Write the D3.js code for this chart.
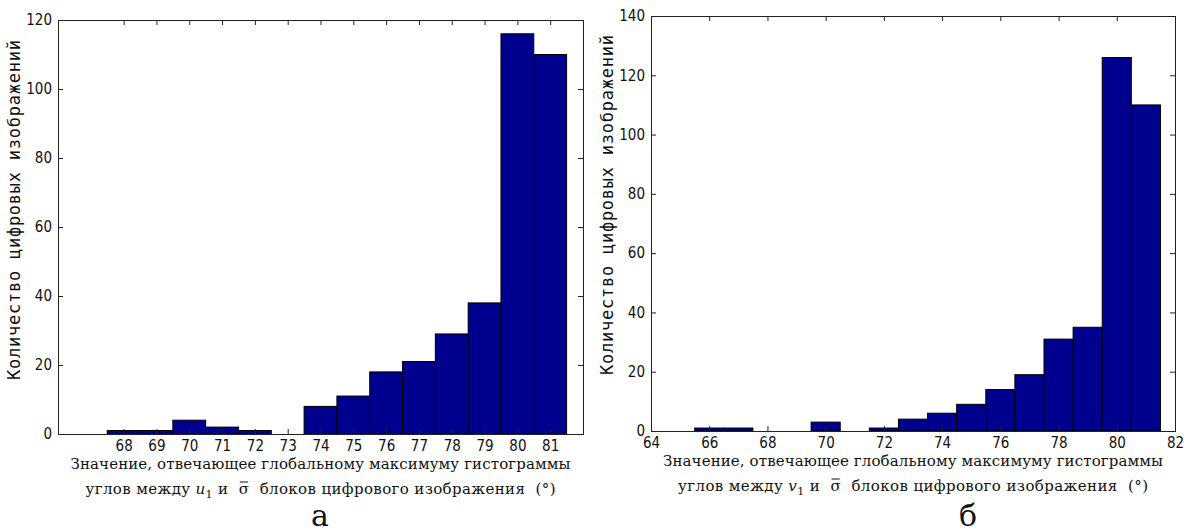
<!DOCTYPE html>
<html>
<head>
<meta charset="utf-8">
<script src="https://cdn.jsdelivr.net/npm/d3@7/dist/d3.min.js"></script>
<style>
  html, body { margin: 0; padding: 0; background: #fff; }
  svg { display: block; }
</style>
</head>
<body>
<svg id="chart" width="1190" height="532"></svg>
<script>
// Histogram (а): bin centres and counts
const binsA = [68, 69, 70, 71, 72, 73, 74, 75, 76, 77, 78, 79, 80, 81];
const countsA = [1, 1, 4, 2, 1, 0, 8, 11, 18, 21, 29, 38, 116, 110];
const xTicksA = [68, 69, 70, 71, 72, 73, 74, 75, 76, 77, 78, 79, 80, 81];
const yTicksA = [0, 20, 40, 60, 80, 100, 120];

// Histogram (б): bin centres and counts
const binsB = [66, 67, 68, 69, 70, 71, 72, 73, 74, 75, 76, 77, 78, 79, 80, 81];
const countsB = [1, 1, 0, 0, 3, 0, 1, 4, 6, 9, 14, 19, 31, 35, 126, 110];
const xTicksB = [64, 66, 68, 70, 72, 74, 76, 78, 80, 82];
const yTicksB = [0, 20, 40, 60, 80, 100, 120, 140];

const yTitle = "Количество цифровых изображений";
const xTitleLine1 = "Значение, отвечающее глобальному максимуму гистограммы";

const SERIF = "DejaVu Serif";
const MONO = "DejaVu Sans Mono";
const TICKFONT = "DejaVu Sans Condensed";

const svg = d3.select("#chart");
const TICK = 5;
const BAR_FILL = "#00008f";

function styleTicks(axisG) {
  axisG.attr("font-family", null).attr("font-size", null);
  axisG.selectAll(".tick text")
    .style("font-family", TICKFONT)
    .style("font-size", "15px")
    .attr("fill", "#111");
  axisG.selectAll(".tick line").attr("stroke", "#222");
}

function drawPanel(p) {
  const x = d3.scaleLinear().domain(p.xDomain).range([p.left, p.right]);
  const y = d3.scaleLinear().domain(p.yDomain).range([p.bottom, p.top]);
  const g = svg.append("g");

  // bars (unit-width bins)
  g.selectAll("rect.bar")
    .data(p.bins.map((b, i) => ({ b, c: p.counts[i] })))
    .join("rect")
    .attr("class", "bar")
    .attr("x", d => x(d.b - 0.5))
    .attr("width", d => x(d.b + 0.5) - x(d.b - 0.5))
    .attr("y", d => y(d.c))
    .attr("height", d => y(0) - y(d.c))
    .attr("fill", BAR_FILL)
    .attr("stroke", "#000")
    .attr("stroke-width", 1);

  // axes with inward ticks on all four sides
  const bottom = g.append("g").attr("transform", `translate(0,${p.bottom})`)
    .call(d3.axisBottom(x).tickValues(p.xTicks).tickFormat(d3.format("d"))
      .tickSizeInner(-TICK).tickSizeOuter(0).tickPadding(6));
  const top = g.append("g").attr("transform", `translate(0,${p.top})`)
    .call(d3.axisTop(x).tickValues(p.xTicks).tickFormat("")
      .tickSizeInner(-TICK).tickSizeOuter(0));
  const left = g.append("g").attr("transform", `translate(${p.left},0)`)
    .call(d3.axisLeft(y).tickValues(p.yTicks).tickFormat(d3.format("d"))
      .tickSizeInner(-TICK).tickSizeOuter(0).tickPadding(6));
  const right = g.append("g").attr("transform", `translate(${p.right},0)`)
    .call(d3.axisRight(y).tickValues(p.yTicks).tickFormat("")
      .tickSizeInner(-TICK).tickSizeOuter(0));
  [bottom, top, left, right].forEach(a => { a.select(".domain").remove(); styleTicks(a); });

  // frame
  g.append("rect")
    .attr("x", p.left + 0.5).attr("y", p.top + 0.5)
    .attr("width", p.right - p.left).attr("height", p.bottom - p.top)
    .attr("fill", "none").attr("stroke", "#222").attr("stroke-width", 1);

  // y title
  const cx = (p.left + p.right) / 2;
  g.append("text")
    .style("font-family", MONO).style("font-size", "17px").attr("fill", "#111")
    .attr("transform", `translate(${p.yTitleX},${p.yTitleY}) rotate(-90)`)
    .attr("text-anchor", "middle")
    .attr("dominant-baseline", "central")
    .attr("textLength", 340)
    .attr("lengthAdjust", "spacing")
    .text(yTitle);

  // x title, first line
  g.append("text")
    .style("font-family", SERIF).style("font-size", "15px").attr("fill", "#111")
    .attr("x", cx).attr("y", p.bottom + 35)
    .attr("text-anchor", "middle")
    .attr("textLength", 500)
    .attr("lengthAdjust", "spacing")
    .text(xTitleLine1);

  // x title, second line with subscripted vector and barred sigma
  const t2 = g.append("text")
    .style("font-family", SERIF).style("font-size", "15px").attr("fill", "#111")
    .attr("x", cx).attr("y", p.bottom + 60)
    .attr("text-anchor", "middle")
    .attr("textLength", 470)
    .attr("lengthAdjust", "spacing")
    .style("white-space", "pre");
  t2.append("tspan").text("углов между ");
  t2.append("tspan").attr("font-style", "italic").text(p.vec);
  t2.append("tspan").style("font-size", "11px").attr("dy", 4).text("1");
  t2.append("tspan").attr("dy", -4).text(" и  ");
  t2.append("tspan").text("σ");
  t2.append("tspan").text("  блоков цифрового изображения  (°)");

  const full = "углов между " + p.vec + "1" + " и  ";
  const ext = t2.node().getExtentOfChar(full.length);
  g.append("line")
    .attr("x1", ext.x + 1).attr("x2", ext.x + ext.width - 1)
    .attr("y1", ext.y + 2).attr("y2", ext.y + 2)
    .attr("stroke", "#111").attr("stroke-width", 1);

  // panel caption
  g.append("text")
    .style("font-family", SERIF).style("font-size", "30px").attr("fill", "#111")
    .attr("x", p.captionX).attr("y", 526)
    .attr("text-anchor", "middle")
    .text(p.caption);
}

drawPanel({
  bins: binsA, counts: countsA, xTicks: xTicksA, yTicks: yTicksA,
  xDomain: [66, 82], yDomain: [0, 120],
  left: 58, right: 583, top: 20, bottom: 434,
  yTitleX: 14, yTitleY: 210, vec: "u", caption: "а", captionX: 320
});

drawPanel({
  bins: binsB, counts: countsB, xTicks: xTicksB, yTicks: yTicksB,
  xDomain: [64, 82], yDomain: [0, 140],
  left: 651, right: 1175, top: 16, bottom: 431,
  yTitleX: 607, yTitleY: 205, vec: "v", caption: "б", captionX: 968
});
</script>
</body>
</html>
